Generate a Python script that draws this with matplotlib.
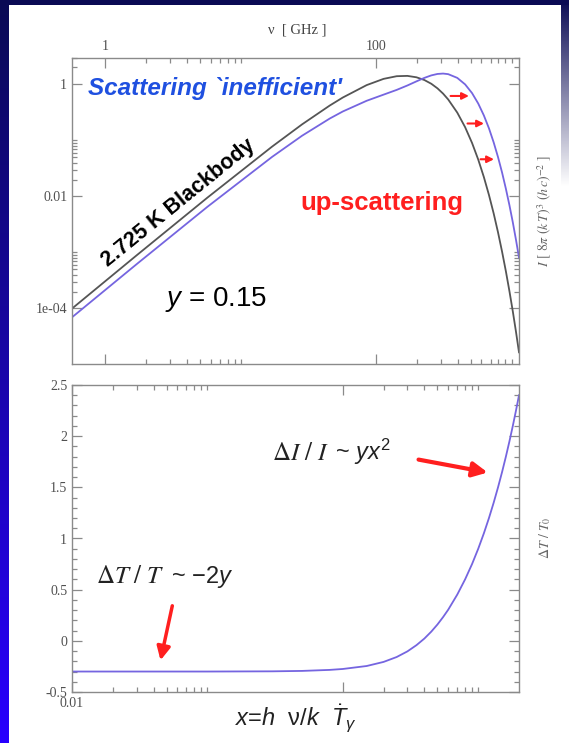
import numpy as np
import matplotlib.pyplot as plt
from matplotlib.ticker import NullFormatter

plt.rcParams['font.family'] = ['Liberation Serif', 'DejaVu Serif']
plt.rcParams['mathtext.fontset'] = 'custom'
plt.rcParams['mathtext.rm'] = 'Liberation Sans'
plt.rcParams['mathtext.it'] = 'Liberation Sans:italic'
plt.rcParams['mathtext.bf'] = 'Liberation Sans:bold'

# dimensionless frequency x = h nu / k T
x = [0.01, 0.03, 0.1, 0.3, 0.5, 0.8, 1.0, 1.5, 2.0, 2.5, 3.0, 3.5, 4.0, 4.5,
     5.0, 5.5, 6.0, 7.0, 8.0, 9.0, 10.0, 11.0, 12.0, 13.0, 14.0, 15.0, 16.0,
     17.0, 18.0, 19.0, 20.0]
# 2.725 K Planck spectrum
blackbody = [9.95e-5, 8.87e-4, 9.51e-3, 0.0772, 0.193, 0.418, 0.582, 0.969,
             1.252, 1.397, 1.415, 1.335, 1.194, 1.024, 0.848, 0.683, 0.537,
             0.313, 0.172, 0.090, 0.0454, 0.0222, 0.0106, 4.97e-3, 2.28e-3,
             1.03e-3, 4.61e-4, 2.03e-4, 8.88e-5, 3.84e-5, 1.65e-5]
# spectrum after up-scattering, y = 0.15
scattered = [6.95e-5, 6.17e-4, 6.52e-3, 0.0506, 0.121, 0.245, 0.328, 0.509,
             0.655, 0.796, 0.955, 1.131, 1.303, 1.444, 1.532, 1.557, 1.520,
             1.304, 0.998, 0.698, 0.454, 0.279, 0.164, 0.0921, 0.0502, 0.0266,
             0.0137, 6.95e-3, 3.45e-3, 1.68e-3, 8.1e-4]
# temperature change Delta T / T0
delta_t = [-0.300, -0.300, -0.300, -0.298, -0.294, -0.284, -0.275, -0.246,
           -0.206, -0.158, -0.103, -0.042, 0.022, 0.090, 0.160, 0.232, 0.304,
           0.452, 0.601, 0.750, 0.900, 1.050, 1.200, 1.350, 1.500, 1.650,
           1.800, 1.950, 2.100, 2.250, 2.400]

# frequency ticks in GHz
nu_major = [1, 100]
nu_minor = [2, 3, 4, 5, 6, 7, 8, 9, 10, 200, 300, 400, 500, 600, 700, 800, 900, 1000]
nu_per_x = 56.78  # kT/h in GHz at 2.725 K

# arrows: (x0, y0, x1, y1)
shift_arrows = [(5.96, 0.62, 8.95, 0.62), (7.95, 0.20, 11.56, 0.20), (9.92, 0.046, 13.7, 0.046)]
arrow_hi = (3.46, 1.776, 12.3, 1.64)
arrow_lo = (0.0556, 0.369, 0.0446, -0.217)

W, H = 569, 743
GREY = '#8a8a8a'
LABEL = '#505050'
RED = '#ff1f1f'
BLUE_LINE = '#7565e0'


def fxy(px, py):
    return px / W, 1 - py / H


fig = plt.figure(figsize=(W / 100, H / 100), dpi=100)

# slide background
bg = np.ones((H, W, 3))
t = np.linspace(0, 1, H)[:, None]
navy = np.array([0.04, 0.04, 0.33])
vivid = np.array([0.16, 0.0, 1.0])
bg[:, :9, :] = (navy * (1 - t) + vivid * t)[:, None, :]
fade = np.clip(t * 4, 0, 1)
bg[:, 561:, :] = (navy * (1 - fade) + fade)[:, None, :]
bg[:5, :, :] = navy
bgax = fig.add_axes([0, 0, 1, 1], zorder=-10)
bgax.imshow(bg, aspect='auto', interpolation='nearest')
bgax.axis('off')

ax1 = fig.add_axes([72 / W, 1 - 364.5 / H, 447 / W, 306.9 / H])
ax2 = fig.add_axes([72 / W, 1 - 692 / H, 447 / W, 307 / H])


def style(ax):
    for s in ax.spines.values():
        s.set_color(GREY)
        s.set_linewidth(1.0)
    ax.tick_params(which='both', direction='in', top=True, right=True,
                   color=GREY, labelcolor=LABEL, labelsize=10)
    ax.tick_params(which='major', length=7, width=0.9)
    ax.tick_params(which='minor', length=3.5, width=0.9)


# upper panel: spectra
ax1.plot(x, blackbody, color='#555555', lw=1.3)
ax1.plot(x, scattered, color=BLUE_LINE, lw=1.3)
ax1.set_xscale('log')
ax1.set_yscale('log')
ax1.set_xlim(0.01, 20)
ax1.set_ylim(1e-5, 3)
style(ax1)
ax1.set_xticks([n / nu_per_x for n in nu_major], [str(n) for n in nu_major])
ax1.set_xticks([n / nu_per_x for n in nu_minor], minor=True)
ax1.xaxis.set_minor_formatter(NullFormatter())
ax1.tick_params(axis='x', labeltop=True, labelbottom=False)
ax1.set_yticks([1e-4, 1e-2, 1], ['1e-04', '0.01', '1'])
ax1.set_yticks([m * d for d in (1e-4, 1e-2, 1) for m in range(2, 11) if m * d <= 3], minor=True)
ax1.yaxis.set_minor_formatter(NullFormatter())

for x0, y0, x1, y1 in shift_arrows:
    ax1.annotate('', xy=(x1, y1), xytext=(x0, y0),
                 arrowprops=dict(arrowstyle='-|>', color=RED, lw=1.5, mutation_scale=10))

# lower panel: Delta T / T0
ax2.plot(x, delta_t, color=BLUE_LINE, lw=1.3)
ax2.set_xscale('log')
ax2.set_xlim(0.01, 20)
ax2.set_ylim(-0.5, 2.5)
style(ax2)
ax2.set_xticks([0.01, 1], ['0.01', ''])
ax2.set_xticks([m * d for d in (0.01, 1) for m in range(2, 11)], minor=True)
ax2.xaxis.set_minor_formatter(NullFormatter())
ax2.set_yticks([-0.5, 0, 0.5, 1, 1.5, 2, 2.5], ['-0.5', '0', '0.5', '1', '1.5', '2', '2.5'])
ax2.set_yticks(np.arange(-0.5, 2.51, 0.1), minor=True)

x0, y0, x1, y1 = arrow_hi
ax2.annotate('', xy=(x1, y1), xytext=(x0, y0),
             arrowprops=dict(arrowstyle='-|>', color=RED, lw=3, mutation_scale=22))
x0, y0, x1, y1 = arrow_lo
ax2.annotate('', xy=(x1, y1), xytext=(x0, y0),
             arrowprops=dict(arrowstyle='-|>', color=RED, lw=2.5, mutation_scale=20))

# axis titles
fig.text(*fxy(297, 30), 'ν  [ GHz ]', fontsize=10.5, color='#444444', ha='center', va='center')
fig.text(*fxy(545, 211), r'$I\ [\ 8\pi\ (k\,T)^3\ (h\,c)^{-2}\ ]$', math_fontfamily='stix',
         rotation=90, fontsize=10, color='#666666', ha='center', va='center')
fig.text(*fxy(545, 538), r'$\Delta T\ /\ T_0$', math_fontfamily='stix',
         rotation=90, fontsize=10, color='#666666', ha='center', va='center')
fig.text(*fxy(296, 718), r'$x$=$h$  ν/$k$  $\dot{T}_{\gamma}$', family='Liberation Sans',
         fontsize=17, color='#222222', ha='center', va='center')

# annotations
sans = dict(family='Liberation Sans')
fig.text(*fxy(88, 88), "Scattering `inefficient'", **sans, weight='bold', style='italic',
         fontsize=17.5, color='#1f50e0', va='center')
fig.text(*fxy(178, 203), '2.725 K Blackbody', **sans, weight='bold', fontsize=15.5,
         rotation=39, rotation_mode='anchor', ha='center', va='center', color='black')
fig.text(*fxy(300, 203), 'up-scattering', **sans, weight='bold', fontsize=18.5,
         color=RED, va='center')
fig.text(*fxy(165, 300), r'$y$ = 0.15', **sans, fontsize=20, va='center', color='black')

# mixed-font formulas sharing one baseline
for px, py, serif_part, sans_part in [(272, 460, r'$\Delta I\ /\ I$', r' ~ $yx^2$'),
                                      (96, 583, r'$\Delta T\ /\ T$', r' ~ $-2y$')]:
    fx, fy = fxy(px, py)
    head = fig.text(fx, fy, serif_part, math_fontfamily='stix', fontsize=18,
                    va='baseline', color='#222222')
    ax2.annotate(sans_part, xy=(1, fy), xycoords=(head, fig.transFigure), va='baseline',
                 **sans, fontsize=17, color='#222222')

fig.savefig('out.png', dpi=100)
